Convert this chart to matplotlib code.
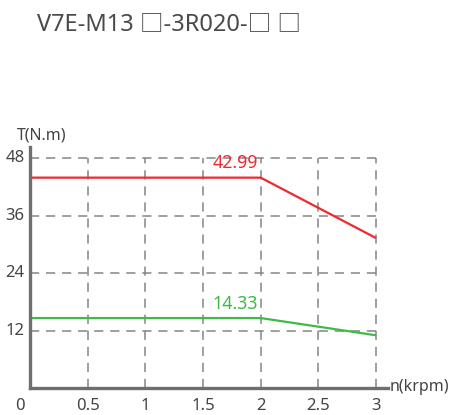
import matplotlib
matplotlib.use("Agg")
import matplotlib.pyplot as plt

plt.rcParams['font.family'] = ['Noto Sans', 'Noto Sans CJK SC', 'DejaVu Sans']

# data
speed = [0, 2, 3]              # n (krpm)
peak_torque = [43.9, 43.9, 31.3]
rated_torque = [14.6, 14.6, 11.0]
peak_label = "42.99"
rated_label = "14.33"
x_ticks = [0, 0.5, 1, 1.5, 2, 2.5, 3]
x_tick_labels = ["0", "0.5", "1", "1.5", "2", "2.5", "3"]
y_ticks = [12, 24, 36, 48]
y_tick_labels = ["12", "24", "36", "48"]
title = "V7E-M13 \u25a1-3R020-\u25a1 \u25a1"

txt = "#444444"
axis_c = "#6e6e6e"
grid_c = "#858585"
red = "#ee2a2f"
green = "#3fba47"

fig = plt.figure(figsize=(4.52, 4.15), dpi=100)
ax = fig.add_axes([30 / 452, 27 / 415, 358 / 452, 241 / 415])
ax.set_xlim(0, 3 + 12 / 115.3)
ax.set_ylim(0, 48 + 11 / 4.79)

# dashed grid, only inside the 0..3 / 0..48 box
ax.vlines(x_ticks[1:], 0, 48, colors=grid_c, linestyles=(0, (6, 4.5)), linewidth=1.1)
ax.hlines(y_ticks, 0, 3, colors=grid_c, linestyles=(0, (6, 4.5)), linewidth=1.1)

ax.plot(speed, peak_torque, color=red, linewidth=1.6, solid_capstyle='butt')
ax.plot(speed, rated_torque, color=green, linewidth=1.6, solid_capstyle='butt')

ax.text(1.98, 45.0, peak_label, color=red, fontsize=12.8, ha='right', va='bottom')
ax.text(1.98, 15.7, rated_label, color=green, fontsize=12.8, ha='right', va='bottom')

for s in ['top', 'right']:
    ax.spines[s].set_visible(False)
for s in ['left', 'bottom']:
    ax.spines[s].set_color(axis_c)
    ax.spines[s].set_linewidth(2.4)

ax.set_xticks([])
ax.set_yticks([])
for x, lab in zip(x_ticks, x_tick_labels):
    dx = -10 if x == 0 else 0
    ax.annotate(lab, (x, 0), xytext=(dx * 0.72, -7), textcoords='offset points',
                ha='center', va='top', fontsize=12, color=txt, annotation_clip=False)
for y, lab in zip(y_ticks, y_tick_labels):
    ax.annotate(lab, (0, y), xytext=(-4, 0), textcoords='offset points',
                ha='right', va='center', fontsize=12, color=txt, annotation_clip=False)

fig.text(17 / 452, 1 - 135 / 415, "T(N.m)", fontsize=11.5, color=txt, ha='left', va='center')
fig.text(390 / 452, 1 - 387 / 415, "n(krpm)", fontsize=11.5, color=txt, ha='left', va='center')
fig.text(37 / 452, 1 - 24 / 415, title, fontsize=17, color="#4a4a4a", ha='left', va='center')

fig.savefig("out.png", dpi=100)
